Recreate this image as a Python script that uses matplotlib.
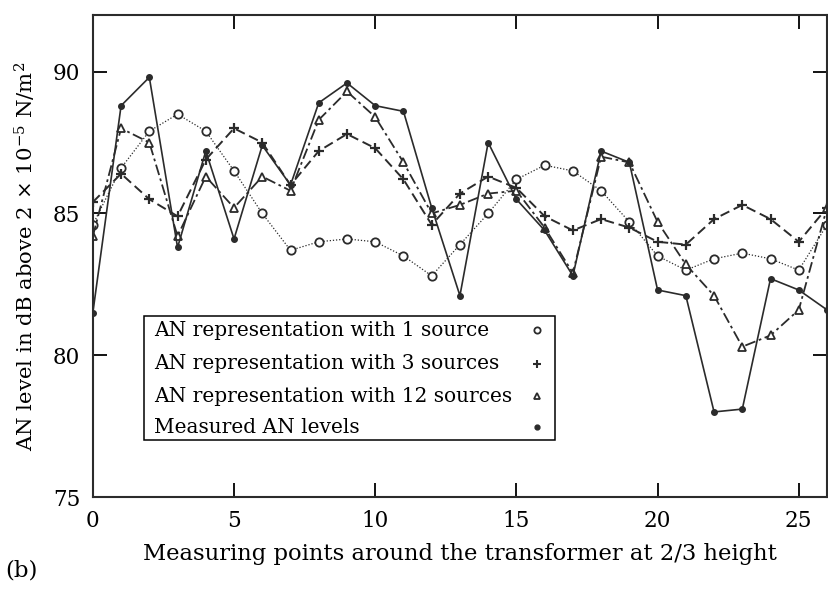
import numpy as np
import matplotlib
matplotlib.use('Agg')
import matplotlib.pyplot as plt
from matplotlib.patches import Rectangle

plt.rcParams['font.family'] = ['DejaVu Serif']
plt.rcParams['mathtext.fontset'] = 'dejavuserif'

points = list(range(27))

one_source = [84.6, 86.6, 87.9, 88.5, 87.9, 86.5, 85.0, 83.7, 84.0, 84.1,
              84.0, 83.5, 82.8, 83.9, 85.0, 86.2, 86.7, 86.5, 85.8, 84.7,
              83.5, 83.0, 83.4, 83.6, 83.4, 83.0, 84.6]
three_sources = [85.4, 86.4, 85.5, 84.9, 86.9, 88.0, 87.5, 86.0, 87.2, 87.8,
                 87.3, 86.2, 84.6, 85.7, 86.3, 85.9, 84.9, 84.4, 84.8, 84.5,
                 84.0, 83.9, 84.8, 85.3, 84.8, 84.0, 85.2]
twelve_sources = [84.2, 88.0, 87.5, 84.2, 86.3, 85.2, 86.3, 85.8, 88.3, 89.3,
                  88.4, 86.8, 85.0, 85.3, 85.7, 85.8, 84.5, 82.9, 87.0, 86.8,
                  84.7, 83.2, 82.1, 80.3, 80.7, 81.6, 85.2]
measured = [81.5, 88.8, 89.8, 83.8, 87.2, 84.1, 87.4, 86.0, 88.9, 89.6,
            88.8, 88.6, 85.2, 82.1, 87.5, 85.5, 84.4, 82.8, 87.2, 86.8,
            82.3, 82.1, 78.0, 78.1, 82.7, 82.3, 81.6]

labels = ['AN representation with 1 source',
          'AN representation with 3 sources',
          'AN representation with 12 sources',
          'Measured AN levels']

ink = '#2b2b2b'

fig = plt.figure(figsize=(8.29, 5.97), dpi=100)
ax = fig.add_axes([0.112, 0.1675, 0.8856, 0.8075])

styles = [
    dict(lw=0.9, ls=(0, (1, 1.5)), marker='o', ms=6, mfc='white', mec=ink, mew=1.3),
    dict(lw=1.4, ls=(0, (5, 2.5)), marker='+', ms=7, mew=1.6),
    dict(lw=1.3, ls=(0, (6, 2, 1.5, 2)), marker='^', ms=6, mfc='white', mec=ink, mew=1.3),
    dict(lw=1.2, ls='-', marker='o', ms=4, mfc=ink, mec=ink),
]
for series, st in zip([one_source, three_sources, twelve_sources, measured], styles):
    ax.plot(points, series, color=ink, **st)

# legend box drawn by hand: text left-aligned, marker on the right
ax.add_patch(Rectangle((0.0695, 0.118), 0.56, 0.2575, transform=ax.transAxes,
                       facecolor='white', edgecolor='black', lw=1.1, zorder=5))
leg_markers = [
    dict(marker='o', ms=4.5, mfc='white', mec=ink, mew=1.3),
    dict(marker='+', ms=6, mew=1.5, color=ink),
    dict(marker='^', ms=4.5, mfc='white', mec=ink, mew=1.3),
    dict(marker='o', ms=3.5, mfc=ink, mec=ink),
]
rows = [0.346, 0.276, 0.209, 0.145]
for lab, yy, mk in zip(labels, rows, leg_markers):
    ax.text(0.083, yy, lab, transform=ax.transAxes, fontsize=14.5,
            va='center', ha='left', zorder=6)
    ax.plot([0.605], [yy], transform=ax.transAxes, ls='none', zorder=6, **mk)

ax.set_xlim(0, 26)
ax.set_ylim(75, 92)
ax.set_xticks([0, 5, 10, 15, 20, 25])
ax.set_yticks([75, 80, 85, 90])
ax.tick_params(direction='in', length=10, width=1.3, top=True, right=True,
               labelsize=15.5, colors='black', pad=9)
for s in ax.spines.values():
    s.set_linewidth(1.5)
    s.set_color(ink)

ax.set_xlabel('Measuring points around the transformer at 2/3 height',
              fontsize=16.3, labelpad=8)
ax.set_ylabel(r'AN level in dB above 2 $\times$ 10$^{-5}$ N/m$^2$', fontsize=15.3,
              labelpad=11)
fig.text(0.006, 0.035, '(b)', fontsize=16.5)

fig.savefig('out.png', dpi=100)
